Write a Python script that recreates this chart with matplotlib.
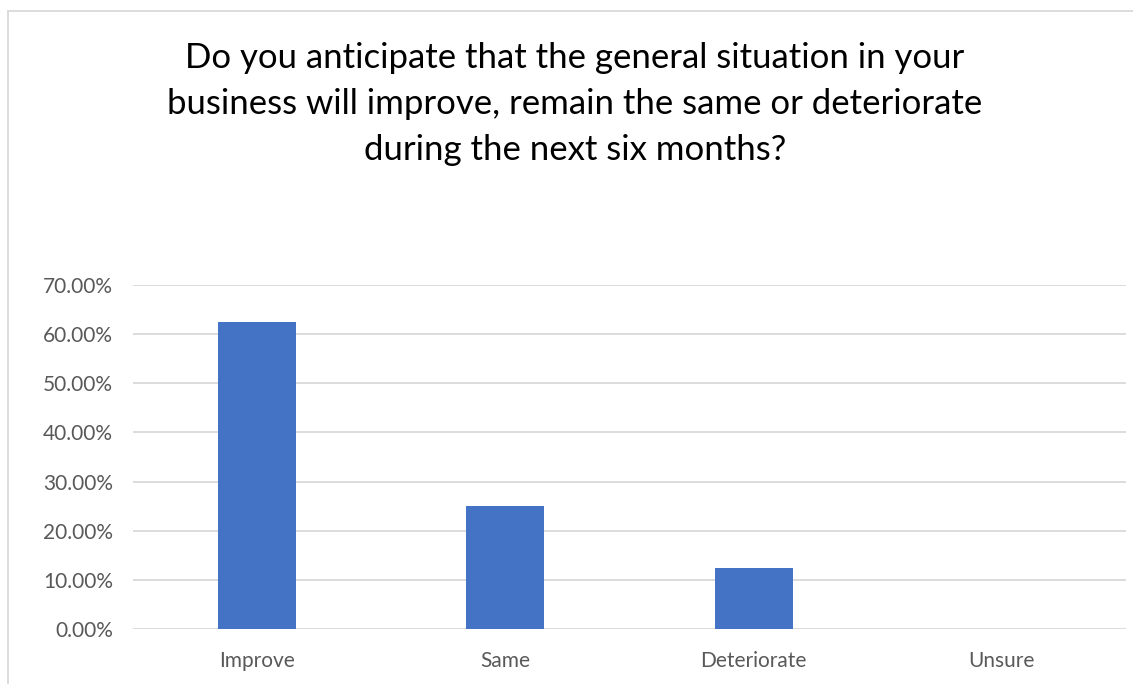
import matplotlib
matplotlib.use('Agg')
import matplotlib.pyplot as plt
from matplotlib.lines import Line2D
from matplotlib.ticker import PercentFormatter

categories = ['Improve', 'Same', 'Deteriorate', 'Unsure']
shares = [62.5, 25.0, 12.5, 0.0]
y_ticks = [0, 10, 20, 30, 40, 50, 60, 70]
title = ('Do you anticipate that the general situation in your\n'
         'business will improve, remain the same or deteriorate\n'
         'during the next six months?')

plt.rcParams['font.family'] = ['Lato', 'DejaVu Sans']

fig = plt.figure(figsize=(11.33, 6.84), dpi=100)
ax = fig.add_axes([0.1174, 0.0804, 0.8764, 0.5029])

ax.bar(range(len(categories)), shares, width=0.315, color='#4472C4', zorder=3)

ax.set_xlim(-0.5, len(categories) - 0.5)
ax.set_ylim(0, 70)
ax.set_yticks(y_ticks)
ax.yaxis.set_major_formatter(PercentFormatter(decimals=2))
ax.set_xticks(range(len(categories)))
ax.set_xticklabels(categories)
ax.grid(axis='y', color='#D9D9D9', linewidth=1.3, zorder=0)
ax.tick_params(axis='both', length=0, labelsize=15, labelcolor='#595959')
ax.tick_params(axis='y', pad=14.5)
ax.tick_params(axis='x', pad=16)
for side in ax.spines.values():
    side.set_visible(False)

# chart area border (only the top and left edges fall inside the canvas)
fig.add_artist(Line2D([8 / 1133, 8 / 1133], [0, 1 - 11 / 684],
                      transform=fig.transFigure, color='#D9D9D9', lw=1.3))
fig.add_artist(Line2D([8 / 1133, 1], [1 - 11 / 684, 1 - 11 / 684],
                      transform=fig.transFigure, color='#D9D9D9', lw=1.3))

fig.text(0.5075, 0.848, title, ha='center', va='center', fontsize=25,
         color='#000000', linespacing=1.55)

fig.savefig('out.png', dpi=100)
